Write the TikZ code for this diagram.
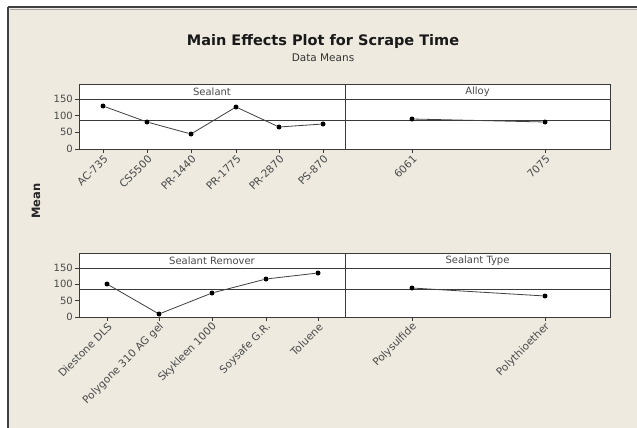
\documentclass[tikz,border=0pt]{standalone}
\usepackage{fontspec}
\setmainfont{DejaVu Sans}
\definecolor{bgc}{HTML}{EEEAE0}
\definecolor{axc}{HTML}{3A3A3A}
\definecolor{txc}{HTML}{4A4A4A}
\begin{document}
\begin{tikzpicture}[x=1pt,y=-1pt,
  panel/.style={draw=axc,line width=0.9pt},
  gline/.style={draw=axc,line width=0.8pt},
  dataline/.style={draw=black!75,line width=0.8pt},
  dot/.style={circle,fill=black,inner sep=0pt,minimum size=5pt},
  striplab/.style={font=\fontsize{10}{11}\selectfont,text=txc,inner sep=0pt},
  ylab/.style={font=\fontsize{10}{11}\selectfont,text=txc,anchor=east,inner sep=0pt},
  xlab/.style={font=\fontsize{10.5}{11}\selectfont,text=txc,anchor=east,rotate=45,inner sep=0pt},
  tickl/.style={draw=axc,line width=0.7pt}]
\useasboundingbox (0,0) rectangle (637,428);
% background and frame
\fill[white] (0,0) rectangle (637,428);
\fill[bgc] (9,8) rectangle (637,428);
\draw[black!75,line width=2pt] (8,7) -- (637,7);
\draw[black!35,line width=1pt] (10,10) -- (637,10);
\draw[black!75,line width=2pt] (8,7) -- (8,428);
% titles
\node[font=\bfseries\fontsize{14.5}{16}\selectfont,text=black!90] (title) at (323,42) {Main Effects Plot for Scrape Time};
\node[font=\fontsize{10.5}{12}\selectfont,text=black!80] (sub) at (323,58) {Data Means};
\node[font=\bfseries\fontsize{11.5}{12}\selectfont,rotate=90,text=black!85] (mean) at (36,201) {Mean};
% ---------------- top panels
\fill[white] (79,84) rectangle (610,149);
\draw[gline] (79,99) -- (610,99);
\draw[gline] (79,120) -- (610,120);
\draw[panel] (79,84) rectangle (610,149);
\draw[gline] (345,84) -- (345,149);
\node[striplab] (s1) at (212,91.5) {Sealant};
\node[striplab] (s2) at (477.5,91.5) {Alloy};
% y ticks
\foreach \v/\yy in {0/149,50/132.3,100/115.7,150/99}{
  \draw[tickl] (75,\yy) -- (79,\yy);
  \node[ylab] (yt\v) at (73,\yy) {\v};
}
% x ticks
\foreach \xx in {103,147,191,236,279,323,412,545}{
  \draw[tickl] (\xx,149) -- (\xx,153);
}
\node[xlab] (xa1) at (106,157) {AC-735};
\node[xlab] (xa2) at (150,157) {CS5500};
\node[xlab] (xa3) at (194,157) {PR-1440};
\node[xlab] (xa4) at (239,157) {PR-1775};
\node[xlab] (xa5) at (282,157) {PR-2870};
\node[xlab] (xa6) at (326,157) {PS-870};
\node[xlab] (xb1) at (415,157) {6061};
\node[xlab] (xb2) at (548,157) {7075};
% data
\node[dot] (a1) at (103,106) {};
\node[dot] (a2) at (147,122) {};
\node[dot] (a3) at (191,134) {};
\node[dot] (a4) at (236,107) {};
\node[dot] (a5) at (279,127) {};
\node[dot] (a6) at (323,124) {};
\draw[dataline] (a1) -- (a2) -- (a3) -- (a4) -- (a5) -- (a6);
\node[dot] (b1) at (412,119) {};
\node[dot] (b2) at (545,122) {};
\draw[dataline] (b1) -- (b2);
% ---------------- bottom panels
\fill[white] (79,253) rectangle (610,317);
\draw[gline] (79,268) -- (610,268);
\draw[gline] (79,289) -- (610,289);
\draw[panel] (79,253) rectangle (610,317);
\draw[gline] (345,253) -- (345,317);
\node[striplab] (s3) at (212,260.5) {Sealant Remover};
\node[striplab] (s4) at (477.5,260.5) {Sealant Type};
\foreach \v/\yy in {0/317,50/300.7,100/284.3,150/268}{
  \draw[tickl] (75,\yy) -- (79,\yy);
  \node[ylab] (ys\v) at (73,\yy) {\v};
}
\foreach \xx in {107,159,212,266,318,412,545}{
  \draw[tickl] (\xx,317) -- (\xx,321);
}
\node[xlab] (xc1) at (110,325) {Diestone DLS};
\node[xlab] (xc2) at (162,325) {Polygone 310 AG gel};
\node[xlab] (xc3) at (215,325) {Skykleen 1000};
\node[xlab] (xc4) at (269,325) {Soysafe G.R.};
\node[xlab] (xc5) at (321,325) {Toluene};
\node[xlab] (xd1) at (415,325) {Polysulfide};
\node[xlab] (xd2) at (548,325) {Polythioether};
\node[dot] (c1) at (107,284) {};
\node[dot] (c2) at (159,314) {};
\node[dot] (c3) at (212,293) {};
\node[dot] (c4) at (266,279) {};
\node[dot] (c5) at (318,273) {};
\draw[dataline] (c1) -- (c2) -- (c3) -- (c4) -- (c5);
\node[dot] (d1) at (412,288) {};
\node[dot] (d2) at (545,296) {};
\draw[dataline] (d1) -- (d2);
\end{tikzpicture}
\end{document}
